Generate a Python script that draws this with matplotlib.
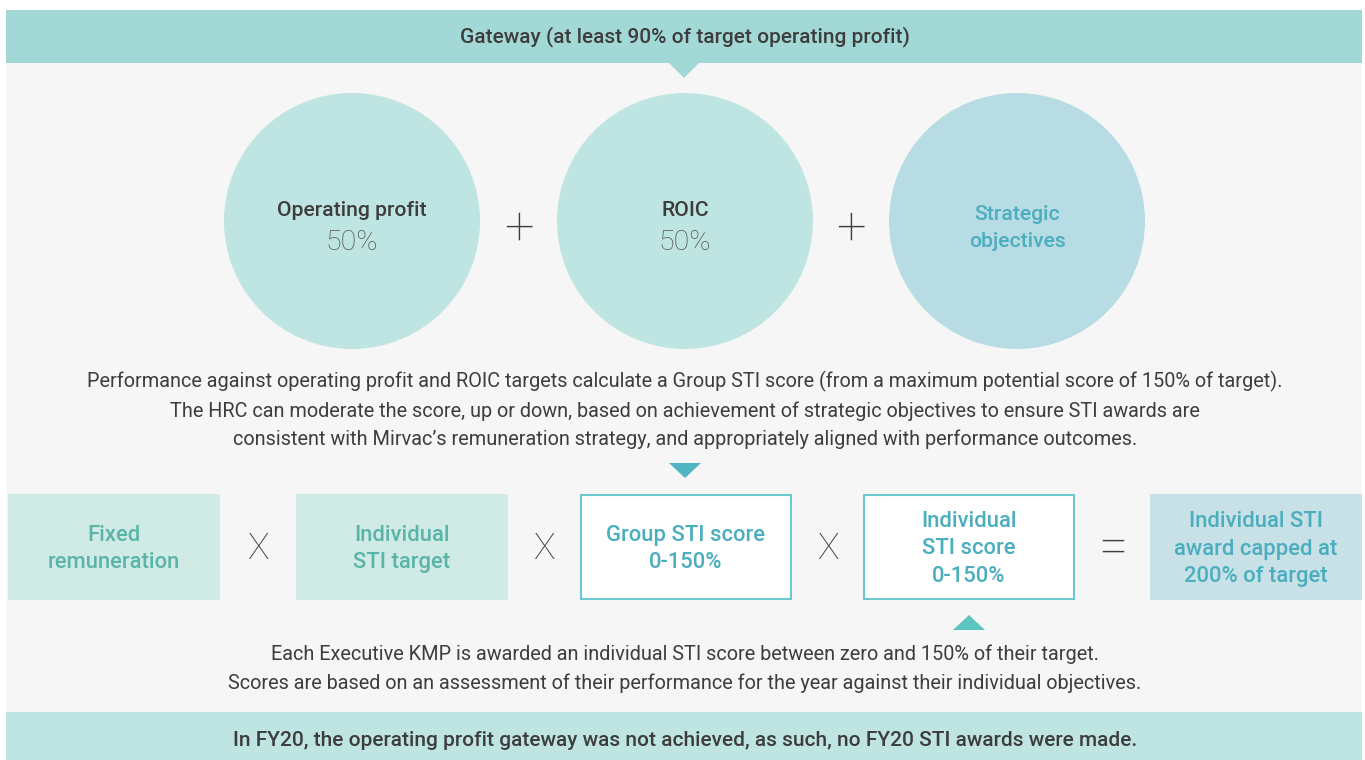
import matplotlib.pyplot as plt
from matplotlib.patches import Rectangle, Circle, Polygon

plt.rcParams['font.family'] = ['Roboto', 'DejaVu Sans']

# === datos del diagrama ===
titulo = "Gateway (at least 90% of target operating profit)"
circulos = ["Operating profit", "ROIC", "Strategic\nobjectives"]
porcentajes = ["50%", "50%", ""]
operadores_circ = ["+", "+"]
texto_medio = ("Performance against operating profit and ROIC targets calculate a Group STI score (from a maximum potential score of 150% of target).\n"
               "The HRC can moderate the score, up or down, based on achievement of strategic objectives to ensure STI awards are\n"
               "consistent with Mirvac\u2019s remuneration strategy, and appropriately aligned with performance outcomes.")
cajas = ["Fixed\nremuneration", "Individual\nSTI target", "Group STI score\n0-150%",
         "Individual\nSTI score\n0-150%", "Individual STI\naward capped at\n200% of target"]
operadores_caja = ["X", "X", "X", "="]
texto_bajo = ("Each Executive KMP is awarded an individual STI score between zero and 150% of their target.\n"
              "Scores are based on an assessment of their performance for the year against their individual objectives.")
nota = "In FY20, the operating profit gateway was not achieved, as such, no FY20 STI awards were made."

# colores
gris_fondo = '#f6f6f6'
banda_top = '#a2d9d6'
banda_bot = '#bee5e1'
circ_cols = ['#bee5e1', '#bee5e1', '#b7dce3']
circ_txt = ['#3d3d3d', '#3d3d3d', '#4aaebf']
caja_cols = ['#d0ebe6', '#d0ebe6', 'white', 'white', '#c7e1e6']
caja_bordes = [None, None, '#6ec8cf', '#6ec8cf', None]
caja_txt = ['#5ab4a8', '#5ab4a8', '#4aaebf', '#4aaebf', '#4aaebf']
texto = '#3d3d3d'

fig = plt.figure(figsize=(13.65, 7.6), dpi=100)
ax = fig.add_axes([0, 0, 1, 1])
ax.set_xlim(0, 1365)
ax.set_ylim(760, 0)
ax.axis('off')

# fondo
ax.add_patch(Rectangle((6, 10), 1356, 750, color=gris_fondo, lw=0))
ax.add_patch(Rectangle((6, 10), 1356, 53, color=banda_top, lw=0))
ax.text(685, 37, titulo, ha='center', va='center', fontsize=15, fontweight='medium', color=texto)
ax.add_patch(Polygon([(668, 62), (700, 62), (684, 78)], color=banda_top, lw=0))

# circulos
cx = [352, 685, 1017]
for i, lab in enumerate(circulos):
    ax.add_patch(Circle((cx[i], 221), 128, color=circ_cols[i], lw=0))
    if porcentajes[i]:
        ax.text(cx[i], 210, lab, ha='center', va='center', fontsize=15.2, fontweight='medium', color=circ_txt[i])
        ax.text(cx[i], 243, porcentajes[i], ha='center', va='center', fontsize=20.5, fontweight='light', color='#555555')
    else:
        ax.text(cx[i], 228, lab, ha='center', va='center', fontsize=15.2, fontweight='medium',
                color=circ_txt[i], linespacing=1.5)
for i, op in enumerate(operadores_circ):
    x = (cx[i] + cx[i + 1]) / 2
    ax.text(x, 229, op, ha='center', va='center', fontsize=38, fontweight='light', color=texto)

ax.text(685, 410, texto_medio, ha='center', va='center', fontsize=14.35,
        color=texto, linespacing=1.6)
ax.add_patch(Polygon([(669, 463), (701, 463), (685, 478)], color='#4fb5c3', lw=0))

# cajas
bx = [8, 296, 580, 863, 1150]
bw = 212
for i, lab in enumerate(cajas):
    if caja_bordes[i]:
        ax.add_patch(Rectangle((bx[i] + 0.75, 494.75), bw - 1.5, 104.5, facecolor=caja_cols[i],
                               edgecolor=caja_bordes[i], lw=1.5))
    else:
        ax.add_patch(Rectangle((bx[i], 494), bw, 106, color=caja_cols[i], lw=0))
    ax.text(bx[i] + bw / 2, 549, lab, ha='center', va='center', fontsize=15.8, fontweight='medium',
            color=caja_txt[i], linespacing=1.38)
for i, op in enumerate(operadores_caja):
    x = (bx[i] + bw + bx[i + 1]) / 2
    size = 38 if op == "=" else 26
    ax.text(x, 549, op, ha='center', va='center', fontsize=size, fontweight='light', color=texto)

ax.add_patch(Polygon([(953, 630), (985, 630), (969, 615)], color='#5cc5c0', lw=0))
ax.text(685, 669, texto_bajo, ha='center', va='center', fontsize=14.35,
        color=texto, linespacing=1.6)

# nota final
ax.add_patch(Rectangle((6, 712), 1356, 48, color=banda_bot, lw=0))
ax.text(685, 741, nota, ha='center', va='center', fontsize=15, fontweight='medium', color=texto)

fig.savefig('out.png', dpi=100)
